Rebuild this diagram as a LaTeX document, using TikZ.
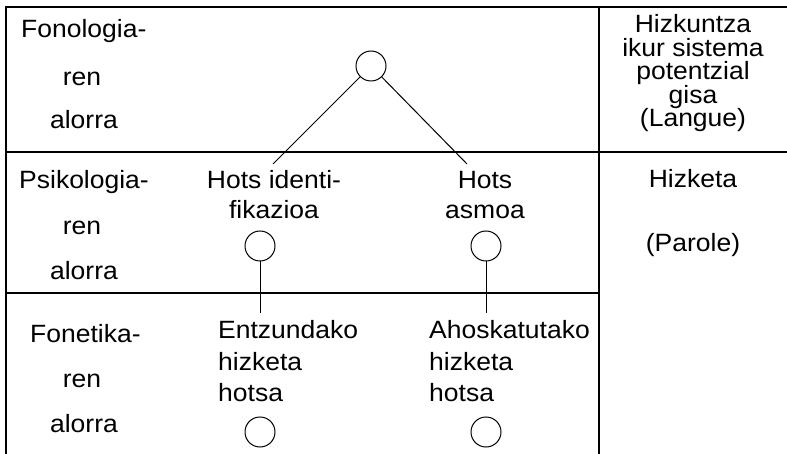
\documentclass[tikz,border=0pt]{standalone}
\usepackage{fontspec}
\setmainfont{Liberation Sans}[FakeStretch=1.06]
\begin{document}
\begin{tikzpicture}[x=1pt,y=-1pt,
  frame/.style={line width=1.2pt},
  conn/.style={line width=1pt},
  circ/.style={circle,draw,line width=1pt,minimum size=30pt,inner sep=0pt},
  lbl/.style={inner sep=0pt,anchor=base,font=\fontsize{25}{30}\selectfont},
  lblw/.style={lbl,anchor=base west}]
\useasboundingbox (0,0) rectangle (787,454);
% frame
\draw[frame] (6,454) -- (6,7) -- (787,7);
\draw[frame] (6,152) -- (787,152);
\draw[frame] (6,293) -- (599,293);
\draw[frame] (599,7) -- (599,454);
% left column labels
\node[lblw] (f1) at (21,38) {Fonologia-};
\node[lbl] (f2) at (82,86) {ren};
\node[lbl] (f3) at (84,129) {alorra};
\node[lblw] (p1) at (19,189) {Psikologia-};
\node[lbl] (p2) at (82,235) {ren};
\node[lbl] (p3) at (84,280) {alorra};
\node[lblw] (n1) at (30,342) {Fonetika-};
\node[lbl] (n2) at (82,387) {ren};
\node[lbl] (n3) at (84,432) {alorra};
% right column
\node[lbl] (h1) at (693,33) {Hizkuntza};
\node[lbl] (h2) at (693,56.5) {ikur sistema};
\node[lbl] (h3) at (693,80) {potentzial};
\node[lbl] (h4) at (693,103.5) {gisa};
\node[lbl] (h5) at (693,127) {(Langue)};
\node[lbl] (k1) at (693,188) {Hizketa};
\node[lbl] (k2) at (693,252) {(Parole)};
% middle labels
\node[lbl] (a1) at (274,189) {Hots identi-};
\node[lbl] (a2) at (274,219) {fikazioa};
\node[lbl] (b1) at (485,189) {Hots};
\node[lbl] (b2) at (485,219) {asmoa};
\node[lblw] (e1) at (218,338) {Entzundako};
\node[lblw] (e2) at (218,370) {hizketa};
\node[lblw] (e3) at (218,401) {hotsa};
\node[lblw] (g1) at (429,338) {Ahoskatutako};
\node[lblw] (g2) at (429,370) {hizketa};
\node[lblw] (g3) at (429,401) {hotsa};
% circles
\node[circ] (c0) at (371,66) {};
\node[circ] (cl) at (260,246) {};
\node[circ] (cr) at (486,246) {};
\node[circ] (dl) at (260,432) {};
\node[circ] (dr) at (486,432) {};
% connector ends
\coordinate (ea) at (273,164);
\coordinate (eb) at (467,164);
\coordinate (ec) at (260,313);
\coordinate (ed) at (486,313);
\draw[conn] (c0) -- (ea);
\draw[conn] (c0) -- (eb);
\draw[conn] (cl) -- (ec);
\draw[conn] (cr) -- (ed);
\end{tikzpicture}
\end{document}
